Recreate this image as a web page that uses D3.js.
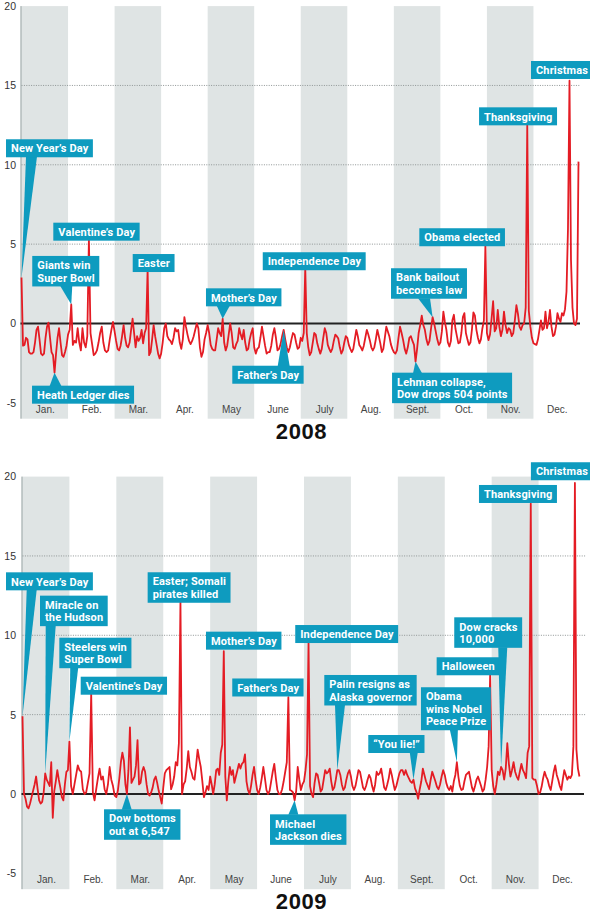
<!DOCTYPE html>
<html><head><meta charset="utf-8">
<script src="https://cdn.jsdelivr.net/npm/d3@7"></script>
<style>
html,body{margin:0;padding:0;background:#fff;}
svg{display:block;}
</style></head><body>
<svg id="chart" width="590" height="915"></svg>
<script>
// ---------- data ----------
const monthLabels = ["Jan.","Feb.","Mar.","Apr.","May","June","July","Aug.","Sept.","Oct.","Nov.","Dec."];
const yTicks = [-5,0,5,10,15,20];
const gridValues = [5,10,15];

const values2008 = [
// Jan
2.9,-1.4,-1.35,-0.9,-1.0,-1.8,-1.9,-1.9,-1.8,-1.2,-0.4,-0.2,-1.0,-1.9,-2.0,-1.9,-0.9,-0.2,0.05,-0.9,-1.8,-2.0,-3.1,-1.9,-0.9,-0.3,-1.2,-2.0,-2.1,-1.8,-1.4,
// Feb
-0.7,-0.4,1.2,-1.35,-1.1,-1.2,-0.3,-1.2,-1.7,-0.3,-1.2,-1.5,-0.8,5.3,-0.6,-1.3,-2.0,-1.9,-1.7,-1.2,-0.6,-0.2,-1.2,-1.7,-1.8,-1.7,-1.0,-0.4,0.1,
// Mar
-0.5,-1.1,-1.6,-1.7,-1.4,-0.8,-0.1,-0.9,-1.4,-1.5,-1.2,-0.4,0.3,-0.6,-1.5,-0.8,-1.1,-0.9,-0.4,-1.25,-0.6,-0.3,3.4,-2.0,-1.8,-1.0,-0.1,-0.8,-1.35,-1.9,-2.2,
// Apr
-1.9,-1.2,-0.3,0.0,-0.8,-1.0,-1.1,-1.3,-0.9,-0.3,-0.5,-0.4,-1.2,-1.6,-1.0,0.4,-0.2,-0.7,-1.1,-1.3,-1.1,-0.8,-0.4,0.0,-0.3,-1.5,-2.1,-1.8,-1.0,-0.6,
// May
-0.1,-0.6,-1.35,-1.6,-1.7,-1.7,-1.0,-0.3,-0.6,-0.8,0.3,-1.2,-1.7,-1.4,-0.7,0.0,-0.6,-1.5,-1.6,-1.3,-1.1,-0.3,-0.7,-1.0,-0.4,-1.2,-1.7,-1.6,-1.0,-0.6,-0.3,
// Jun
-1.5,-1.9,-1.6,-1.5,-0.9,-0.2,-0.8,-1.4,-1.9,-1.8,-1.8,-1.4,-0.7,-0.3,-0.9,-1.7,-1.6,-1.3,-0.8,-0.4,-1.0,-1.5,-1.8,-1.5,-1.0,-0.6,-0.7,-1.2,-1.6,-1.5,
// Jul
-0.9,-1.1,-0.6,3.5,-0.6,-1.5,-2.0,-1.8,-1.2,-0.6,-0.7,-1.25,-1.6,-1.9,-1.6,-0.9,-0.3,-0.6,-1.35,-1.6,-1.8,-1.6,-1.1,-0.7,-0.8,-0.95,-1.5,-1.9,-1.7,-1.2,-0.8,
// Aug
-0.9,-1.35,-1.6,-1.8,-1.6,-1.0,-0.4,-0.8,-1.35,-1.5,-1.7,-1.4,-0.9,-0.4,-0.7,-1.05,-1.5,-1.7,-1.5,-1.0,-0.4,-0.8,-1.25,-1.8,-1.6,-0.9,-0.2,-0.5,-0.8,-1.3,-1.6,
// Sep
-1.8,-1.9,-1.7,-0.9,-0.2,-0.6,-1.05,-1.6,-1.9,-1.5,-0.9,-0.8,-1.1,-1.35,-2.4,-1.6,-0.6,-0.1,0.5,-0.1,-0.4,-1.0,-1.35,-1.1,-0.3,0.4,0.0,-0.5,-1.0,-1.35,
// Oct
-1.2,-0.5,0.75,0.1,-0.4,-1.2,-1.45,-1.1,0.2,0.55,-0.3,-0.8,-1.25,-1.2,-0.6,0.4,0.65,-0.6,-1.0,-1.35,-1.2,-0.4,0.7,0.5,-0.4,-0.9,-1.25,-1.0,-0.3,0.2,5.0,
// Nov
-0.6,-1.05,-0.7,0.3,1.4,-0.5,-0.3,0.85,-0.2,-0.8,-0.4,0.75,-0.1,-0.6,-0.3,-0.4,-0.8,-0.6,0.2,1.15,0.6,-0.2,-0.4,-0.1,0.0,1.0,12.5,0.8,-0.2,-0.9,
// Dec
-1.25,-1.3,-1.35,-1.0,-0.4,0.2,-0.4,-0.3,0.75,-0.3,0.1,0.85,-0.2,-0.8,-0.7,-0.2,0.65,0.3,0.1,0.65,0.5,0.9,2.0,6.0,15.3,4.0,1.0,0.0,-0.1,0.3,10.2
];

const values2009 = [
// Jan
4.9,0.0,-0.3,-0.8,-0.9,-0.6,-0.2,0.2,0.6,1.1,0.3,-0.4,-0.6,-0.5,0.1,1.3,0.9,0.7,0.5,2.0,-1.5,0.2,0.8,1.5,0.9,0.4,-0.2,-0.4,0.6,1.4,1.5,
// Feb
3.3,0.5,0.0,0.6,1.2,1.8,1.5,1.4,0.3,0.0,0.1,0.7,1.3,6.3,0.1,-0.4,0.3,1.0,1.6,0.9,1.1,0.3,0.0,0.6,1.7,0.9,0.5,-0.1,
// Mar
-0.2,0.2,1.0,2.0,2.6,2.1,0.6,0.0,1.5,4.2,0.7,0.9,1.1,1.8,3.4,0.6,0.7,1.4,1.7,1.4,0.6,0.0,-0.1,0.1,0.4,0.9,1.1,0.7,0.2,-0.2,-0.6,
// Apr
0.4,1.3,1.5,1.6,1.7,0.3,0.6,1.1,2.0,1.8,3.2,12.1,0.0,0.6,0.8,1.6,2.7,1.7,1.4,1.0,0.9,1.8,2.8,2.2,1.7,0.8,-0.2,0.1,0.5,0.25,
// May
1.1,0.6,0.0,0.6,1.5,1.6,1.2,2.6,3.1,9.0,1.1,-0.4,0.8,1.7,1.2,1.5,0.7,1.1,1.5,1.9,1.6,1.9,2.0,2.5,0.8,0.25,0.0,0.5,1.2,1.7,0.9,
// Jun
0.25,0.0,0.4,1.0,1.7,1.0,0.25,0.0,0.2,0.8,1.4,1.9,1.0,0.25,0.0,0.0,0.3,0.8,1.4,2.0,6.1,0.25,0.2,0.1,-0.4,0.2,1.7,0.9,0.25,0.6,
// Jul
0.8,1.5,2.5,9.5,0.5,0.0,-0.2,0.7,1.3,1.2,0.7,0.15,0.3,0.9,1.5,1.3,1.4,1.6,0.8,0.25,0.4,0.9,1.5,1.5,1.2,0.6,0.25,0.4,0.9,1.3,1.5,
// Aug
1.1,0.5,0.25,0.5,1.0,1.5,1.4,0.9,0.4,0.25,0.5,0.9,1.2,1.0,0.5,0.15,0.6,1.4,1.2,1.3,1.6,1.0,0.4,0.25,0.6,1.0,1.6,1.2,0.7,0.25,0.5,
// Sep
0.9,1.3,1.5,1.5,1.2,1.5,1.2,1.0,0.8,0.7,0.9,0.35,0.1,-0.3,0.3,0.8,1.6,1.2,0.8,0.55,0.3,0.9,1.4,1.1,0.8,0.45,0.3,0.6,1.1,1.5,
// Oct
1.2,0.7,0.4,0.25,0.5,0.15,0.8,1.2,2.0,1.1,0.5,0.25,0.3,0.8,1.2,1.3,1.4,0.9,0.4,0.15,0.5,0.9,1.1,0.8,0.5,0.15,0.3,0.9,1.7,3.0,7.5,
// Nov
1.5,0.5,0.0,0.6,1.4,1.2,1.7,1.5,0.9,1.6,3.2,1.9,1.1,1.5,2.0,1.4,1.1,0.9,1.4,1.9,1.5,1.3,1.0,2.6,3.0,18.3,1.0,0.9,0.9,0.5,
// Dec (through Dec 28)
0.0,0.1,0.45,1.0,1.4,1.1,0.9,0.5,0.25,0.8,1.4,1.8,1.2,0.9,0.5,0.25,0.9,1.5,1.2,0.9,1.1,1.0,1.2,3.0,19.6,2.8,1.6,1.1
];

const notes2008 = [
  {lines:["New Year\u2019s Day"], date:"2008-01-01"},
  {lines:["Giants win","Super Bowl"], date:"2008-02-03"},
  {lines:["Valentine\u2019s Day"], date:"2008-02-14"},
  {lines:["Easter"], date:"2008-03-23"},
  {lines:["Heath Ledger dies"], date:"2008-01-23"},
  {lines:["Mother\u2019s Day"], date:"2008-05-11"},
  {lines:["Father\u2019s Day"], date:"2008-06-20"},
  {lines:["Independence Day"], date:"2008-07-04"},
  {lines:["Bank bailout","becomes law"], date:"2008-09-26"},
  {lines:["Lehman collapse,","Dow drops 504 points"], date:"2008-09-15"},
  {lines:["Obama elected"], date:"2008-10-31"},
  {lines:["Thanksgiving"], date:"2008-11-27"},
  {lines:["Christmas"], date:"2008-12-25"}
];
const notes2009 = [
  {lines:["New Year\u2019s Day"], date:"2009-01-01"},
  {lines:["Miracle on","the Hudson"], date:"2009-01-16"},
  {lines:["Steelers win","Super Bowl"], date:"2009-02-01"},
  {lines:["Valentine\u2019s Day"], date:"2009-02-14"},
  {lines:["Easter; Somali","pirates killed"], date:"2009-04-12"},
  {lines:["Mother\u2019s Day"], date:"2009-05-10"},
  {lines:["Father\u2019s Day"], date:"2009-06-21"},
  {lines:["Independence Day"], date:"2009-07-04"},
  {lines:["Palin resigns as","Alaska governor"], date:"2009-07-23"},
  {lines:["\u201cYou lie!\u201d"], date:"2009-09-11"},
  {lines:["Obama","wins Nobel","Peace Prize"], date:"2009-10-09"},
  {lines:["Halloween"], date:"2009-10-31"},
  {lines:["Dow cracks","10,000"], date:"2009-11-07"},
  {lines:["Thanksgiving"], date:"2009-11-26"},
  {lines:["Christmas"], date:"2009-12-25"},
  {lines:["Dow bottoms","out at 6,547"], date:"2009-03-08"},
  {lines:["Michael","Jackson dies"], date:"2009-06-25"}
];

// ---------- layout (label box offsets from their anchor point) ----------
const layout2008 = [
  {dx:-15.5, dy:-138.2, px:10, pw:11},
  {dx:-39, dy:-48.5, px:-5, pw:12},
  {dx:-35.6, dy:-16.7},
  {dx:-14.9, dy:-15.5},
  {dx:-22.5, dy:13, px:1, pw:12},
  {dx:-16.7, dy:-30.4, px:0.6, pw:13},
  {dx:-51.4, dy:35.9, px:0, pw:12},
  {dx:-42.5, dy:-15.7},
  {dx:-41.6, dy:-48.9, px:-8.6, pw:12},
  {dx:-23.5, dy:11.1, px:2, pw:9},
  {dx:-66.1, dy:-15.9},
  {dx:-48.2, dy:-17.8},
  {dx:-38.5, dy:-19.7}
];
const layout2009 = [
  {dx:-16.5, dy:-143.9, px:9.2, pw:10},
  {dx:-5.2, dy:-177.7, px:5.5, pw:10},
  {dx:-10.1, dy:-103.9, px:4.8, pw:8},
  {dx:-10.5, dy:-17.3},
  {dx:-32.8, dy:-29.7},
  {dx:-17.8, dy:-19.5},
  {dx:-56.1, dy:-18.7},
  {dx:-13.3, dy:-18.2},
  {dx:-13, dy:-95.2, px:2.7, pw:10},
  {dx:-45.2, dy:-44.7, px:0.3, pw:8},
  {dx:-35.9, dy:-75, px:-3, pw:8},
  {dx:-53.5, dy:-17.7},
  {dx:-46.8, dy:-149.7, px:1.7, pw:9},
  {dx:-51.8, dy:-18.6},
  {dx:-44, dy:-20.7},
  {dx:-22.9, dy:15.3, px:-0.2, pw:10},
  {dx:-24.6, dy:14, px:-1.3, pw:10}
];

const BAND = "#dfe4e4", RED = "#e41c24", TEAL = "#0e9bbf";
const svg = d3.select("#chart");
const parse = d3.timeParse("%Y-%m-%d");

function monthFrac(date){
  const m = date.getMonth();
  const n = new Date(date.getFullYear(), m+1, 0).getDate();
  return m + (date.getDate()-1)/n;
}

function drawPanel(cfg){
  const {year, values, notes, layout, x, y, zeroEnd} = cfg;
  const g = svg.append("g");
  const [x0, x1] = x.range();
  const yTop = y(20), yBot = y(-6);

  g.selectAll("rect.band").data(d3.range(0,12,2)).join("rect")
    .attr("class","band")
    .attr("x", m => x(m)).attr("width", m => x(m+1)-x(m))
    .attr("y", yTop).attr("height", yBot-yTop).attr("fill", BAND);

  g.selectAll("line.grid").data(gridValues).join("line")
    .attr("class","grid")
    .attr("x1", x0).attr("x2", x1).attr("y1", v=>y(v)).attr("y2", v=>y(v))
    .attr("stroke","#8f9595").attr("stroke-width",1).attr("stroke-dasharray","1,1.4");

  g.append("line").attr("x1", x0-0.5).attr("x2", x0-0.5).attr("y1", yTop).attr("y2", yBot)
    .attr("stroke","#8c9a9a").attr("stroke-width",1);

  g.append("line").attr("x1", x0-1).attr("x2", zeroEnd).attr("y1", y(0)).attr("y2", y(0))
    .attr("stroke","#222").attr("stroke-width",2);

  // y axis labels
  const ya = g.append("g").attr("transform", `translate(16,0)`)
    .call(d3.axisLeft(y).tickValues(yTicks).tickSize(0).tickPadding(0).tickFormat(d=>String(d)));
  ya.select(".domain").remove();
  ya.selectAll("text").attr("font-family","'Liberation Sans', Arial, sans-serif")
    .attr("font-size",10.5).attr("fill","#333");

  // month labels
  const xa = g.append("g").attr("transform", `translate(0,${yBot-13})`)
    .call(d3.axisBottom(x).tickValues(d3.range(12).map(m=>m+0.5)).tickSize(0).tickPadding(0)
      .tickFormat(d => monthLabels[Math.floor(d)]));
  xa.select(".domain").remove();
  xa.selectAll("text").attr("font-family","'Liberation Sans', Arial, sans-serif")
    .attr("font-size",10).attr("fill","#444");

  // data line
  const start = new Date(year,0,1);
  const data = values.map((v,i)=>({date:d3.timeDay.offset(start,i), v}));
  const line = d3.line().x(d=>x(monthFrac(d.date))).y(d=>y(d.v));
  g.append("path").datum(data).attr("d", line)
    .attr("fill","none").attr("stroke",RED).attr("stroke-width",1.8)
    .attr("stroke-linejoin","round");

  // annotations
  const ng = g.append("g");
  notes.forEach((n, i) => {
    const L = layout[i];
    const dt = parse(n.date);
    const idx = d3.timeDay.count(start, dt);
    const ax = x(monthFrac(dt)), ay = y(values[idx]);
    const h = 18 + 12.5*(n.lines.length-1);
    const left = ax + L.dx, top = ay + L.dy;
    const a = ng.append("g");
    const txt = a.append("text")
      .attr("font-family","Roboto, 'Liberation Sans', sans-serif")
      .attr("font-weight",700).attr("font-size",11).attr("letter-spacing",0.15).attr("fill","#fff");
    n.lines.forEach((ln, j) => {
      txt.append("tspan").attr("x", left+5).attr("y", top+13.2+12.5*j).text(ln);
    });
    const w = d3.max(txt.selectAll("tspan").nodes(), t=>t.getComputedTextLength()) + 9.5;
    if (L.px !== undefined) {
      const baseY = L.dy > 0 ? top+0.5 : top+h-0.5;
      const bx = ax + L.px;
      a.insert("path","text")
        .attr("d", `M${bx-L.pw/2},${baseY}L${bx+L.pw/2},${baseY}L${ax},${ay}Z`)
        .attr("fill", TEAL);
    }
    a.insert("rect","text").attr("x", left).attr("y", top).attr("width", w).attr("height", h)
      .attr("fill", TEAL);
  });

  // year label
  g.append("text").attr("x", 301.5).attr("y", yBot+19.8).attr("text-anchor","middle")
    .attr("font-family","'Liberation Sans', Arial, sans-serif").attr("font-weight",700)
    .attr("font-size",22).attr("letter-spacing",0.6).attr("fill","#111").text(year);
}

drawPanel({
  year:2008, values:values2008, notes:notes2008, layout:layout2008,
  x:d3.scaleLinear().domain([0,12]).range([21.5,580]),
  y:d3.scaleLinear().domain([-6,20]).range([418.7,6.1]),
  zeroEnd:580
});
drawPanel({
  year:2009, values:values2009, notes:notes2009, layout:layout2009,
  x:d3.scaleLinear().domain([0,12]).range([22.5,585.5]),
  y:d3.scaleLinear().domain([-6,20]).range([889.2,476.6]),
  zeroEnd:584
});
</script>
</body></html>
